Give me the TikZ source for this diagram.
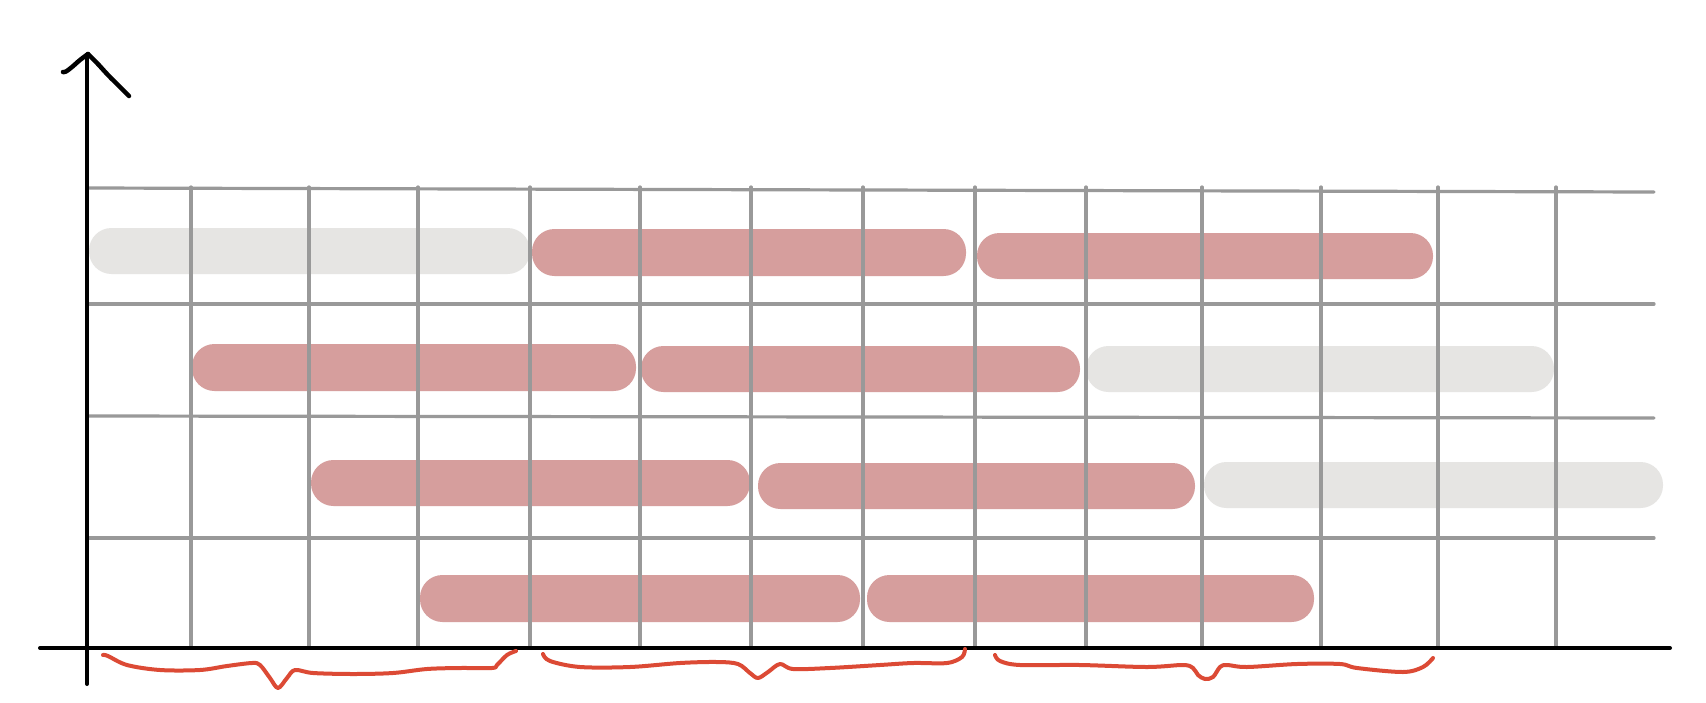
\documentclass[tikz,border=0pt]{standalone}
\definecolor{barred}{RGB}{214,158,157}
\definecolor{bargray}{RGB}{230,229,227}
\definecolor{gridgray}{RGB}{153,153,153}
\definecolor{bracered}{RGB}{220,74,53}
\tikzset{
  redbar/.style={fill=barred, rounded corners=22.5pt},
  graybar/.style={fill=bargray, rounded corners=22.5pt},
  gridline/.style={draw=gridgray, line width=3.2pt, line cap=round},
  axisline/.style={draw=black, line width=4pt, line cap=round, line join=round},
  bracecurve/.style={draw=bracered, line width=4pt, line cap=round, line join=round},
}
\begin{document}
\begin{tikzpicture}[x=1pt, y=-1pt]
\useasboundingbox (0,0) rectangle (1706,702);
\fill[white] (0,0) rectangle (1706,702);

% bars
\fill[graybar] (89,228) rectangle (530,274);
\fill[redbar] (532,229) rectangle (966,276);
\fill[redbar] (977,233) rectangle (1433,279);

\fill[redbar] (192,344) rectangle (636,391);
\fill[redbar] (641,346) rectangle (1080,392);
\fill[graybar] (1086,346) rectangle (1554,392);

\fill[redbar] (311,460) rectangle (750,506);
\fill[redbar] (758,463) rectangle (1195,509);
\fill[graybar] (1204,462) rectangle (1663,508);

\fill[redbar] (420,575) rectangle (860,622);
\fill[redbar] (867,575) rectangle (1314,622);

% horizontal grid lines
\draw[gridline] (87,188) -- (1654,192);
\draw[gridline] (87,304) -- (1654,304);
\draw[gridline] (87,416) -- (1654,418);
\draw[gridline] (87,538) -- (1654,538);

% vertical grid lines
\foreach \x in {191,309,418,530,640,751,863,975,1086,1202,1321,1438,1556}
  \draw[gridline] (\x,187) -- (\x,648);

% axes
\draw[axisline] (40,648) -- (1670,648);
\draw[axisline] (87,684) -- (87,55);
\draw[axisline, line width=4.5pt] plot[smooth, tension=0.6] coordinates {(63,72) (66,71.5) (72,67) (80,60) (88,54)};
\draw[axisline, line width=4.5pt] plot[smooth, tension=0.6] coordinates {(88,54) (97,63) (108,75) (119,86) (129,96)};

% braces
\draw[bracecurve] plot[smooth, tension=0.55] coordinates {(103,655) (108,656) (127,665) (160,670) (200,670) (227,666) (252,663) (260,665) (270,678) (278,688) (287,678) (295,670) (313,673) (353,674) (393,673) (427,669) (460,668) (492,668) (497,665) (507,655) (516,651)};
\draw[bracecurve] plot[smooth, tension=0.55] coordinates {(543,654) (550,661) (580,667) (630,667) (680,663) (717,662) (738,664) (750,673) (758,678) (768,672) (780,664) (793,669) (830,668) (880,665) (913,663) (947,663) (962,657) (965,649)};
\draw[bracecurve] plot[smooth, tension=0.55] coordinates {(995,655) (1000,661) (1020,665) (1080,665) (1147,667) (1183,665) (1193,668) (1198,675) (1205,679) (1213,677) (1220,667) (1227,665) (1247,667) (1297,664) (1340,664) (1357,668) (1403,672) (1423,667) (1433,658)};
\end{tikzpicture}
\end{document}
